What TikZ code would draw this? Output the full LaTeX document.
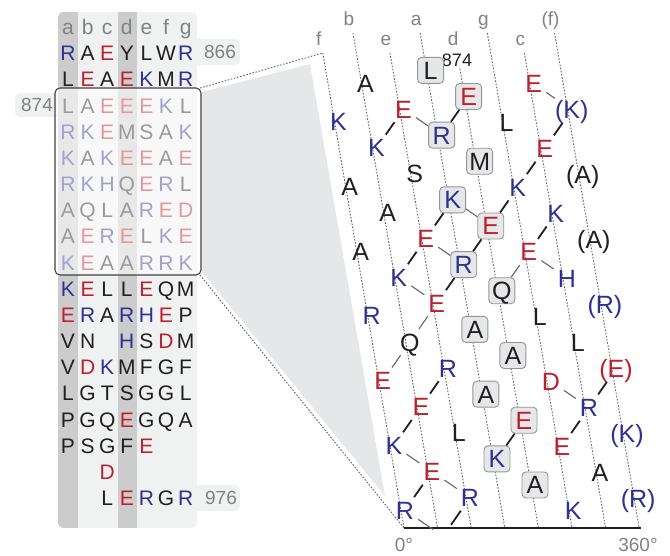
\documentclass[tikz,border=0pt]{standalone}
\usepackage{fontspec}
\setmainfont{Liberation Sans}
\definecolor{cr}{RGB}{190,30,45}
\definecolor{cb}{RGB}{46,49,146}
\definecolor{ck}{RGB}{35,31,32}
\definecolor{cg}{RGB}{128,130,133}
\definecolor{panel}{RGB}{240,241,241}
\definecolor{band}{RGB}{205,204,205}
\definecolor{boxfill}{RGB}{230,231,232}
\definecolor{boxgray}{RGB}{147,149,152}
\definecolor{shadegray}{RGB}{230,231,232}
\definecolor{linegray}{RGB}{100,101,104}
\definecolor{boxedge}{RGB}{65,64,66}
\newcommand\hres[5]{\node[#5] (#1) at ({408+33.6*(#3)-0.171*(452.5-9.25*(#2)+1.7*(#3))},{75.5+9.25*(#2)-1.7*(#3)}) {#4};}
\newcommand\trow[2]{\foreach \c/\s/\t in {#2} {\node[tl,text=\s] (t#1-\c) at ({68+19.6*\c},{27+26.17*#1}) {\t};}}
\tikzset{
  tl/.style={font=\fontsize{21}{21}\selectfont, text height=15pt, text depth=0pt, inner sep=0pt},
  tag/.style={font=\fontsize{19}{19}\selectfont, text=cg, text height=13.6pt, text depth=0pt, inner sep=0pt},
  nt/.style={font=\fontsize{25}{25}\selectfont, text height=17.9pt, text depth=0pt, inner sep=4pt},
  rpos/.style={nt,text=cb}, rneg/.style={nt,text=cr}, rneu/.style={nt,text=ck},
  core/.style={draw=boxgray, fill=boxfill, rounded corners=4pt, minimum width=26pt, minimum height=26pt, inner sep=0pt, line width=0.9pt},
  dup/.style={inner xsep=0pt},
  hlab/.style={font=\fontsize{19}{19}\selectfont, text=cg, text height=13.6pt, text depth=0pt, inner sep=0pt},
  guide/.style={draw=linegray, line width=0.9pt, dash pattern=on 1.6pt off 1.6pt},
  salt/.style={draw=ck, line width=1.8pt},
  hb/.style={draw=linegray, line width=1.1pt}
}
\begin{document}
\begin{tikzpicture}[x=1pt,y=-1pt]
\useasboundingbox (0,0) rectangle (670,555);
% ---- left panel ----
\fill[panel, rounded corners=5pt] (185,39) rectangle (240,65);
\fill[panel, rounded corners=5pt] (185,485) rectangle (240,511);
\fill[panel, rounded corners=5pt] (15,93) rectangle (70,117);
\fill[panel, rounded corners=5pt] (58,12) rectangle (197,528);
\begin{scope}
  \clip[rounded corners=5pt] (58,12) rectangle (197,528);
  \fill[band] (58,12) rectangle (78,528);
  \fill[band] (118,12) rectangle (137,528);
\end{scope}
\node[tag] (n866) at (220,52) {866};
\node[tag] (n874) at (37,105) {874};
\node[tag] (n976) at (221,498) {976};
\trow{0}{0/cg/a,1/cg/b,2/cg/c,3/cg/d,4/cg/e,5/cg/f,6/cg/g}
\trow{1}{0/cb/R,1/ck/A,2/cr/E,3/ck/Y,4/ck/L,5/ck/W,6/cb/R}
\trow{2}{0/ck/L,1/cr/E,2/ck/A,3/cr/E,4/cb/K,5/ck/M,6/cb/R}
\trow{3}{0/ck/L,1/ck/A,2/cr/E,3/cr/E,4/cr/E,5/cb/K,6/ck/L}
\trow{4}{0/cb/R,1/cb/K,2/cr/E,3/ck/M,4/ck/S,5/ck/A,6/cb/K}
\trow{5}{0/cb/K,1/ck/A,2/cb/K,3/cr/E,4/cr/E,5/ck/A,6/cr/E}
\trow{6}{0/cb/R,1/cb/K,2/cb/H,3/ck/Q,4/cr/E,5/cb/R,6/ck/L}
\trow{7}{0/ck/A,1/ck/Q,2/ck/L,3/ck/A,4/cb/R,5/cr/E,6/cr/D}
\trow{8}{0/ck/A,1/cr/E,2/cb/R,3/cr/E,4/ck/L,5/cb/K,6/cr/E}
\trow{9}{0/cb/K,1/cr/E,2/ck/A,3/ck/A,4/cb/R,5/cb/R,6/cb/K}
\trow{10}{0/cb/K,1/cr/E,2/ck/L,3/ck/L,4/cr/E,5/ck/Q,6/ck/M}
\trow{11}{0/cr/E,1/cb/R,2/ck/A,3/cb/R,4/cb/H,5/cr/E,6/ck/P}
\trow{12}{0/ck/V,1/ck/N,3/cb/H,4/ck/S,5/cr/D,6/ck/M}
\trow{13}{0/ck/V,1/cr/D,2/cb/K,3/ck/M,4/ck/F,5/ck/G,6/ck/F}
\trow{14}{0/ck/L,1/ck/G,2/ck/T,3/ck/S,4/ck/G,5/ck/G,6/ck/L}
\trow{15}{0/ck/P,1/ck/G,2/ck/Q,3/cr/E,4/ck/G,5/ck/Q,6/ck/A}
\trow{16}{0/ck/P,1/ck/S,2/ck/G,3/ck/F,4/cr/E}
\trow{17}{2/cr/D}
\trow{18}{2/ck/L,3/cr/E,4/cb/R,5/ck/G,6/cb/R}
\draw[draw=boxedge, line width=1.1pt, fill=white, fill opacity=0.55, rounded corners=5pt] (55,88) rectangle (201,275);
% ---- projection ----
\fill[shadegray] (202,92) -- (310,64) -- (385,496) -- (202,272) -- cycle;
\coordinate (pA) at (200,88);
\coordinate (pB) at (200,275);
\coordinate (origin) at (404,528);
\coordinate (end) at (641,528);
% ---- helix guide lines ----
\foreach \L/\lab in {0/f,1/b,2/e,3/a,4/d,5/g,6/c,7/{(f)}} {
  \pgfmathsetmacro\yt{53-20*mod(\L,2)}
  \pgfmathsetmacro\xb{404+33.6*\L}
  \pgfmathsetmacro\xt{\xb-0.171*(528-\yt)}
  \coordinate (ht\L) at (\xt,\yt);
  \coordinate (hb\L) at (\xb,528);
  \draw[guide] (ht\L) -- (hb\L);
  \node[hlab] (hl\L) at (\xt-4,\yt-14.5) {\lab};
}
\draw[guide] (pA) -- (ht0);
\draw[guide] (pB) -- (origin);
\draw[ck, line width=2pt] (origin) -- (end);
\node[hlab] (deg0) at (404,545) {0°};
\node[hlab] (deg360) at (638,545) {360°};
\node[font=\fontsize{18}{18}\selectfont, text=ck, fill=white, inner sep=0.5pt, text height=12.9pt, text depth=0pt] (lab874) at (457,60) {874};
% ---- residues ----
\hres{r874}{0}{3}{L}{rneu,core}
\hres{r875}{1}{1}{A}{rneu}
\hres{r876}{2}{6}{E}{rneg}
\hres{r877}{3}{4}{E}{rneg,core}
\hres{r878}{4}{2}{E}{rneg}
\hres{r879}{5}{0}{K}{rpos}
\hres{d879}{5}{7}{(K)}{rpos,dup}
\hres{r880}{6}{5}{L}{rneu}
\hres{r881}{7}{3}{R}{rpos,core}
\hres{r882}{8}{1}{K}{rpos}
\hres{r883}{9}{6}{E}{rneg}
\hres{r884}{10}{4}{M}{rneu,core}
\hres{r885}{11}{2}{S}{rneu}
\hres{r886}{12}{0}{A}{rneu}
\hres{d886}{12}{7}{(A)}{rneu,dup}
\hres{r887}{13}{5}{K}{rpos}
\hres{r888}{14}{3}{K}{rpos,core}
\hres{r889}{15}{1}{A}{rneu}
\hres{r890}{16}{6}{K}{rpos}
\hres{r891}{17}{4}{E}{rneg,core}
\hres{r892}{18}{2}{E}{rneg}
\hres{r893}{19}{0}{A}{rneu}
\hres{d893}{19}{7}{(A)}{rneu,dup}
\hres{r894}{20}{5}{E}{rneg}
\hres{r895}{21}{3}{R}{rpos,core}
\hres{r896}{22}{1}{K}{rpos}
\hres{r897}{23}{6}{H}{rpos}
\hres{r898}{24}{4}{Q}{rneu,core}
\hres{r899}{25}{2}{E}{rneg}
\hres{r900}{26}{0}{R}{rpos}
\hres{d900}{26}{7}{(R)}{rpos,dup}
\hres{r901}{27}{5}{L}{rneu}
\hres{r902}{28}{3}{A}{rneu,core}
\hres{r903}{29}{1}{Q}{rneu}
\hres{r904}{30}{6}{L}{rneu}
\hres{r905}{31}{4}{A}{rneu,core}
\hres{r906}{32}{2}{R}{rpos}
\hres{r907}{33}{0}{E}{rneg}
\hres{d907}{33}{7}{(E)}{rneg,dup}
\hres{r908}{34}{5}{D}{rneg}
\hres{r909}{35}{3}{A}{rneu,core}
\hres{r910}{36}{1}{E}{rneg}
\hres{r911}{37}{6}{R}{rpos}
\hres{r912}{38}{4}{E}{rneg,core}
\hres{r913}{39}{2}{L}{rneu}
\hres{r914}{40}{0}{K}{rpos}
\hres{d914}{40}{7}{(K)}{rpos,dup}
\hres{r915}{41}{5}{E}{rneg}
\hres{r916}{42}{3}{K}{rpos,core}
\hres{r917}{43}{1}{E}{rneg}
\hres{r918}{44}{6}{A}{rneu}
\hres{r919}{45}{4}{A}{rneu,core}
\hres{r920}{46}{2}{R}{rpos}
\hres{r921}{47}{0}{R}{rpos}
\hres{d921}{47}{7}{(R)}{rpos,dup}
\hres{r922}{48}{5}{K}{rpos}
\coordinate (x924) at ({408+33.6*1-0.171*(452.5-9.25*50+1.7)},{75.5+9.25*50-1.7});
% ---- interactions ----
\draw[salt] (r878) -- (r882);
\draw[salt] (r877) -- (r881);
\draw[salt] (d879) -- (r883);
\draw[salt] (r883) -- (r887);
\draw[salt] (r887) -- (r891);
\draw[salt] (r888) -- (r892);
\draw[salt] (r891) -- (r895);
\draw[salt] (r892) -- (r896);
\draw[salt] (r895) -- (r899);
\draw[salt] (r890) -- (r894);
\draw[salt] (r906) -- (r910);
\draw[salt] (r910) -- (r914);
\draw[salt] (d907) -- (r911);
\draw[salt] (r911) -- (r915);
\draw[salt] (r912) -- (r916);
\draw[salt] (r917) -- (r921);
\draw[salt, shorten >=14pt] (r920) -- (x924);
\draw[hb] (r878) -- (r881);
\draw[hb] (r876) -- (d879);
\draw[hb] (r888) -- (r891);
\draw[hb] (r892) -- (r895);
\draw[hb] (r896) -- (r899);
\draw[hb] (r899) -- (r903);
\draw[hb] (r903) -- (r907);
\draw[hb] (r894) -- (r897);
\draw[hb] (r894) -- (r898);
\draw[hb] (r908) -- (r911);
\draw[hb] (r914) -- (r917);
\draw[hb] (r917) -- (r920);
\draw[hb, shorten >=12pt] (r921) -- (x924);
\end{tikzpicture}
\end{document}
